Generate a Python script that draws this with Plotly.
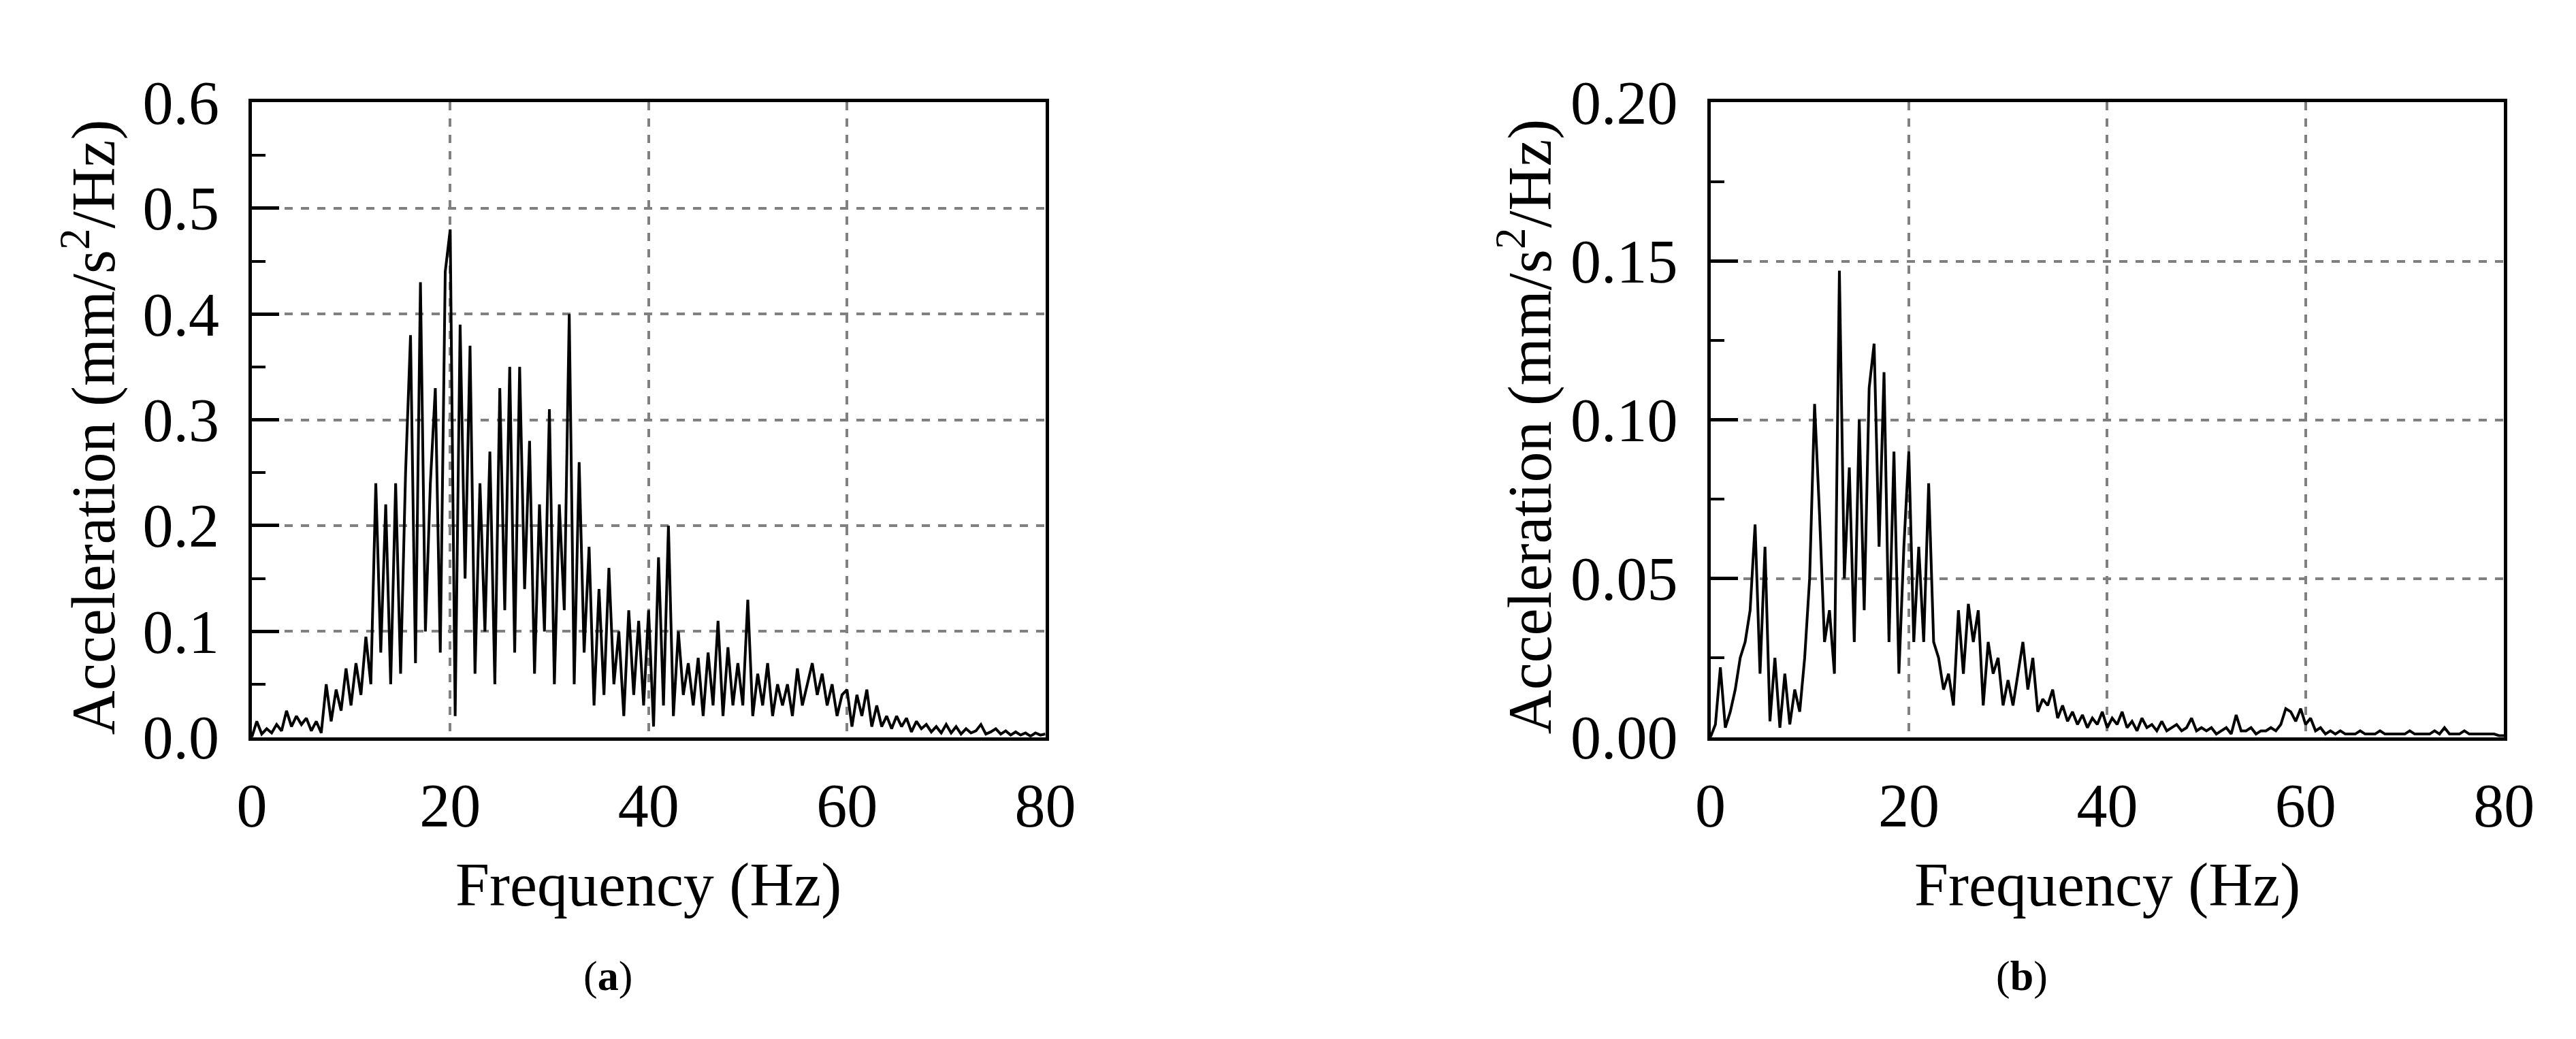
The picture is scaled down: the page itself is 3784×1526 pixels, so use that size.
import numpy as np
import plotly.graph_objects as go

# frequency sampled every 0.5 Hz, 0..80
freq = np.arange(0, 80.5, 0.5)

acc_a = [
    0.0, 0.015, 0.003, 0.008, 0.004, 0.012, 0.006, 0.025, 0.01, 0.02,
    0.012, 0.018, 0.006, 0.015, 0.004, 0.05, 0.015, 0.045, 0.025, 0.065,
    0.03, 0.07, 0.04, 0.095, 0.05, 0.24, 0.08, 0.22, 0.05, 0.24,
    0.06, 0.25, 0.38, 0.07, 0.43, 0.1, 0.24, 0.33, 0.08, 0.44,
    0.48, 0.02, 0.39, 0.15, 0.37, 0.06, 0.24, 0.1, 0.27, 0.05,
    0.33, 0.12, 0.35, 0.08, 0.35, 0.14, 0.28, 0.06, 0.22, 0.1,
    0.31, 0.05, 0.22, 0.12, 0.4, 0.05, 0.26, 0.08, 0.18, 0.03,
    0.14, 0.04, 0.16, 0.05, 0.1, 0.02, 0.12, 0.04, 0.11, 0.03,
    0.12, 0.01, 0.17, 0.03, 0.2, 0.02, 0.1, 0.04, 0.07, 0.03,
    0.075, 0.02, 0.08, 0.03, 0.11, 0.02, 0.085, 0.03, 0.07, 0.03,
    0.13, 0.02, 0.06, 0.03, 0.07, 0.02, 0.05, 0.03, 0.05, 0.02,
    0.065, 0.03, 0.05, 0.07, 0.04, 0.06, 0.03, 0.05, 0.02, 0.04,
    0.045, 0.01, 0.04, 0.02, 0.045, 0.01, 0.03, 0.01, 0.02, 0.008,
    0.02, 0.01, 0.018, 0.005, 0.015, 0.008, 0.012, 0.005, 0.01, 0.004,
    0.012, 0.004, 0.01, 0.003, 0.008, 0.004, 0.006, 0.012, 0.003, 0.005,
    0.008, 0.003, 0.006, 0.002, 0.005, 0.002, 0.004, 0.001, 0.004, 0.002, 0.003,
]

acc_b = [
    0.0, 0.004, 0.022, 0.003, 0.008, 0.015, 0.025, 0.03, 0.04, 0.067,
    0.02, 0.06, 0.005, 0.025, 0.003, 0.02, 0.004, 0.015, 0.008, 0.025,
    0.05, 0.105, 0.07, 0.03, 0.04, 0.02, 0.147, 0.05, 0.085, 0.03,
    0.1, 0.04, 0.11, 0.124, 0.06, 0.115, 0.03, 0.09, 0.02, 0.06,
    0.09, 0.03, 0.06, 0.03, 0.08, 0.03, 0.025, 0.015, 0.02, 0.01,
    0.04, 0.02, 0.042, 0.03, 0.04, 0.01, 0.03, 0.02, 0.025, 0.01,
    0.018, 0.01, 0.02, 0.03, 0.015, 0.025, 0.008, 0.012, 0.01, 0.015,
    0.006, 0.01, 0.005, 0.008, 0.004, 0.007, 0.003, 0.006, 0.004, 0.008,
    0.003, 0.006, 0.004, 0.008, 0.003, 0.005, 0.002, 0.006, 0.003, 0.004,
    0.002, 0.005, 0.002, 0.003, 0.004, 0.002, 0.003, 0.006, 0.002, 0.003,
    0.002, 0.003, 0.001, 0.002, 0.003, 0.001, 0.007, 0.002, 0.002, 0.003,
    0.001, 0.002, 0.002, 0.003, 0.002, 0.004, 0.009, 0.008, 0.005, 0.009,
    0.004, 0.006, 0.002, 0.003, 0.001, 0.002, 0.001, 0.002, 0.001, 0.001,
    0.001, 0.002, 0.001, 0.001, 0.001, 0.002, 0.001, 0.001, 0.001, 0.001,
    0.001, 0.002, 0.001, 0.001, 0.001, 0.001, 0.002, 0.001, 0.003, 0.001,
    0.001, 0.001, 0.002, 0.001, 0.001, 0.001, 0.001, 0.001, 0.001, 0.0005, 0.0005,
]

x_ticks = [0, 20, 40, 60, 80]
y_ticks_a = [0.0, 0.1, 0.2, 0.3, 0.4, 0.5, 0.6]
y_ticks_b = [0.00, 0.05, 0.10, 0.15, 0.20]

FONT = "Liberation Serif"
fs = 90

fig = go.Figure()
fig.add_trace(go.Scatter(x=freq, y=acc_a, mode="lines", line=dict(color="black", width=4),
                         xaxis="x", yaxis="y", showlegend=False))
fig.add_trace(go.Scatter(x=freq, y=acc_b, mode="lines", line=dict(color="black", width=4),
                         xaxis="x2", yaxis="y2", showlegend=False))

xcommon = dict(range=[0, 80], tickvals=x_ticks, showline=True, mirror=True, linecolor="black",
               linewidth=5, ticks="", showgrid=True, gridcolor="#808080", griddash="dash",
               gridwidth=4, zeroline=False, tickfont=dict(family=FONT, size=fs, color="black"),
               ticklabelstandoff=18)
ycommon = dict(showline=True, mirror=True, linecolor="black", linewidth=5, ticks="inside",
               ticklen=40, tickwidth=5, tickcolor="black", showgrid=True, gridcolor="#808080",
               griddash="dash", gridwidth=4, zeroline=False,
               tickfont=dict(family=FONT, size=fs, color="black"), ticklabelstandoff=25)

fig.update_layout(
    width=3784, height=1526, margin=dict(l=0, r=0, t=0, b=0),
    plot_bgcolor="white", paper_bgcolor="white",
    xaxis=dict(domain=[0.0912, 0.4049], anchor="y", **xcommon),
    yaxis=dict(domain=[0.2805, 0.9338], anchor="x", range=[0, 0.6], tickvals=y_ticks_a,
               ticktext=[f"{v:.1f}" for v in y_ticks_a],
               minor=dict(ticks="inside", ticklen=20, tickwidth=4, tickcolor="black",
                          dtick=0.05, showgrid=False), **ycommon),
    xaxis2=dict(domain=[0.6678, 0.9815], anchor="y2", **xcommon),
    yaxis2=dict(domain=[0.2805, 0.9338], anchor="x2", range=[0, 0.2], tickvals=y_ticks_b,
                ticktext=[f"{v:.2f}" for v in y_ticks_b],
                minor=dict(ticks="inside", ticklen=20, tickwidth=4, tickcolor="black",
                           dtick=0.025, showgrid=False), **ycommon),
)

annots = [
    dict(x=0.248, y=0.128, text="Frequency (Hz)", size=fs),
    dict(x=0.8247, y=0.128, text="Frequency (Hz)", size=fs),
    dict(x=0.027, y=0.6, text="Acceleration (mm/s<sup>2</sup>/Hz)", textangle=-90, size=fs),
    dict(x=0.5946, y=0.6, text="Acceleration (mm/s<sup>2</sup>/Hz)", textangle=-90, size=fs),
    dict(x=0.232, y=0.035, text="(<b>a</b>)", size=62),
    dict(x=0.791, y=0.035, text="(<b>b</b>)", size=62),
]
for a in annots:
    size = a.pop("size")
    fig.add_annotation(xref="paper", yref="paper", showarrow=False, xanchor="center",
                       yanchor="middle", font=dict(family=FONT, size=size, color="black"), **a)

fig.write_html("out.html")
